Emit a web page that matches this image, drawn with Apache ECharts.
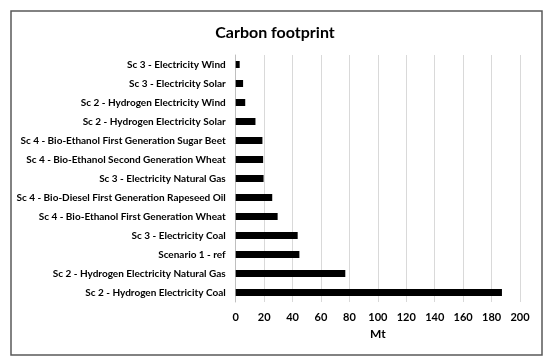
<!DOCTYPE html>
<html><head><meta charset="utf-8">
<script src="https://cdn.jsdelivr.net/npm/echarts@6/dist/echarts.min.js"></script>
<style>html,body{margin:0;padding:0;background:#fff}#c{width:550px;height:363px}</style>
</head><body><div id="c"></div>
<script>
var categories = [
  "Sc 2 - Hydrogen Electricity Coal",
  "Sc 2 - Hydrogen Electricity Natural Gas",
  "Scenario 1 - ref",
  "Sc 3 - Electricity Coal",
  "Sc 4 - Bio-Ethanol First Generation Wheat",
  "Sc 4 - Bio-Diesel First Generation Rapeseed Oil",
  "Sc 3 - Electricity Natural Gas",
  "Sc 4 - Bio-Ethanol Second Generation Wheat",
  "Sc 4 - Bio-Ethanol First Generation Sugar Beet",
  "Sc 2 - Hydrogen Electricity Solar",
  "Sc 2 - Hydrogen Electricity Wind",
  "Sc 3 - Electricity Solar",
  "Sc 3 - Electricity Wind"
];
var values = [187.3, 77.1, 44.8, 43.6, 29.5, 25.7, 19.6, 19.3, 18.8, 13.9, 6.7, 5.2, 2.8];
var title = "Carbon footprint";
var axisName = "Mt";

var F = "Lato, 'Open Sans', sans-serif";
var chart = echarts.init(document.getElementById('c'));
chart.setOption({
  animation: false,
  title: {text: title, left: 'center', top: 20, textStyle: {fontFamily: F, fontSize: 16, fontWeight: 'bold', color: '#000'}},
  grid: {left: 235.7, right: 30, top: 55, bottom: 61, containLabel: false, outerBoundsMode: 'none'},
  xAxis: {type: 'value', min: 0, max: 200, interval: 20,
    name: axisName, nameLocation: 'middle', nameGap: 26,
    nameTextStyle: {fontFamily: F, fontSize: 12, fontWeight: 'bold', color: '#000'},
    axisLine: {show: false}, axisTick: {show: false},
    axisLabel: {fontFamily: F, fontSize: 11, fontWeight: 'bold', color: '#000', margin: 10},
    splitLine: {lineStyle: {color: '#d9d9d9', width: 1}}},
  yAxis: {type: 'category', data: categories,
    axisLine: {lineStyle: {color: '#bfbfbf'}}, axisTick: {show: false},
    axisLabel: {fontFamily: F, fontSize: 10, fontWeight: 'bold', color: '#000', margin: 10}},
  series: [{type: 'bar', data: values, barWidth: 7, itemStyle: {color: '#000'}}],
  graphic: [{type: 'rect', shape: {x: 11, y: 11, width: 531, height: 344}, style: {fill: 'none', stroke: '#595959', lineWidth: 1.5}, silent: true}]
});
</script></body></html>
